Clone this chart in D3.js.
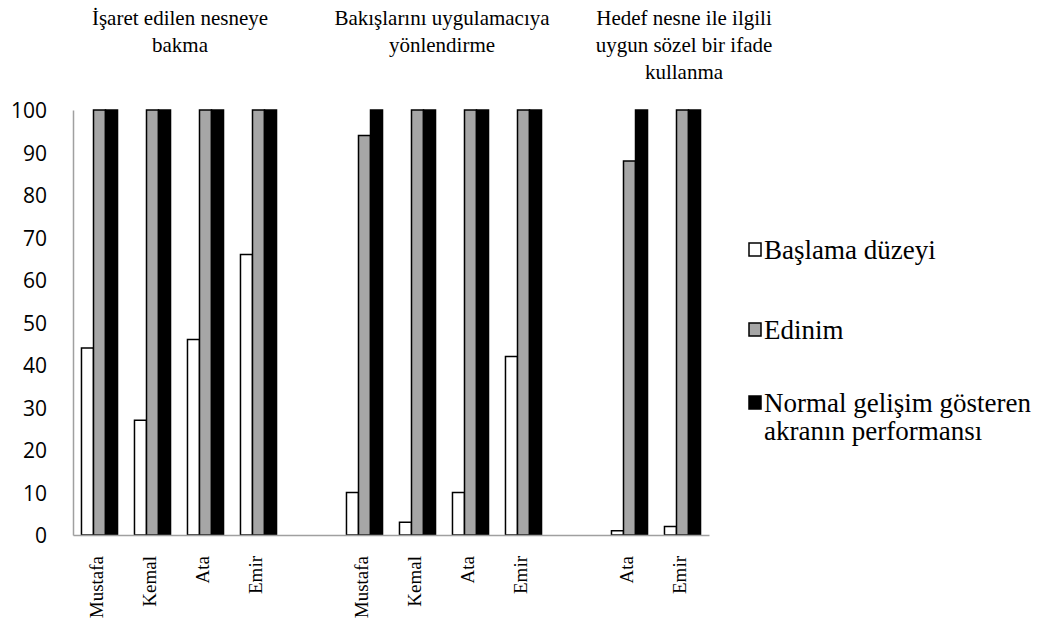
<!DOCTYPE html>
<html>
<head>
<meta charset="utf-8">
<script src="https://cdn.jsdelivr.net/npm/d3@7/dist/d3.min.js"></script>
<style>
  html, body { margin: 0; padding: 0; background: #fff; }
  svg { display: block; }
</style>
</head>
<body>
<svg id="chart" width="1039" height="622"></svg>
<script>
// ---- data ----
const groupTitles = [
  ["İşaret edilen nesneye", "bakma"],
  ["Bakışlarını uygulamacıya", "yönlendirme"],
  ["Hedef nesne ile ilgili", "uygun sözel bir ifade", "kullanma"]
];
const categories = ["Mustafa", "Kemal", "Ata", "Emir", "", "Mustafa", "Kemal", "Ata", "Emir", "", "Ata", "Emir"];
const baslama = [44, 27, 46, 66, null, 10, 3, 10, 42, null, 1, 2];
const edinim  = [100, 100, 100, 100, null, 94, 100, 100, 100, null, 88, 100];
const akran   = [100, 100, 100, 100, null, 100, 100, 100, 100, null, 100, 100];
const seriesNames = ["Başlama düzeyi", "Edinim", "Normal gelişim gösteren akranın performansı"];
const yTicks = [0, 10, 20, 30, 40, 50, 60, 70, 80, 90, 100];

(function () {
// ---- layout ----
const svg = d3.select("#chart");
const pLeft = 73, pRight = 709, pTop = 110, pBottom = 535;
const seriesValues = [baslama, edinim, akran];
const fills = ["#ffffff", "#a6a6a6", "#000000"];

const x = d3.scaleBand().domain(d3.range(categories.length)).range([pLeft, pRight])
  .paddingInner(0.32).paddingOuter(0.16);
const xs = d3.scaleBand().domain(d3.range(3)).range([0, x.bandwidth()]);
const y = d3.scaleLinear().domain([0, 100]).range([pBottom, pTop]);

// bars
seriesValues.forEach((vals, s) => {
  svg.append("g").selectAll("rect")
    .data(vals.map((v, i) => ({ v, i })).filter(d => d.v !== null))
    .join("rect")
    .attr("x", d => x(d.i) + xs(s))
    .attr("y", d => y(d.v))
    .attr("width", xs.bandwidth())
    .attr("height", d => y(0) - y(d.v))
    .attr("fill", fills[s])
    .attr("stroke", "#000")
    .attr("stroke-width", 1.5);
});

// y axis
const yAxis = d3.axisLeft(y).tickValues(yTicks).tickSize(0).tickPadding(26);
const yg = svg.append("g").attr("transform", `translate(${pLeft},0)`).call(yAxis);
yg.select(".domain").attr("stroke", "#a0a0a0").attr("stroke-width", 1.5);
yg.selectAll("text").attr("font-family", "'Open Sans', sans-serif").attr("font-size", 21)
  .attr("fill", "#000").attr("dy", "0.36em");

// x axis
const xAxis = d3.axisBottom(x).tickSize(0).tickFormat(i => categories[i]);
const xg = svg.append("g").attr("transform", `translate(0,${pBottom})`).call(xAxis);
xg.select(".domain").attr("stroke", "#a0a0a0").attr("stroke-width", 1.5);
xg.selectAll("text")
  .attr("font-family", "'Liberation Serif', 'Times New Roman', serif")
  .attr("font-size", 19).attr("fill", "#000")
  .attr("text-anchor", "end")
  .attr("transform", "translate(-3,21) rotate(-90)")
  .attr("x", 0).attr("y", 0).attr("dy", "0.35em");

// group titles
const titleX = [180, 442, 684];
groupTitles.forEach((lines, g) => {
  const t = svg.append("text")
    .attr("font-family", "'Liberation Serif', 'Times New Roman', serif")
    .attr("font-size", 21).attr("text-anchor", "middle").attr("fill", "#000");
  lines.forEach((ln, k) => {
    t.append("tspan").attr("x", titleX[g]).attr("y", 25 + k * 27).text(ln);
  });
});

// legend
const legendY = [250, 330, 403];
const lg = svg.append("g");
seriesNames.forEach((name, s) => {
  lg.append("rect").attr("x", 749).attr("y", legendY[s] - 7).attr("width", 12).attr("height", 13)
    .attr("fill", fills[s]).attr("stroke", "#000").attr("stroke-width", 1.5);
  const t = lg.append("text")
    .attr("font-family", "'Liberation Serif', 'Times New Roman', serif")
    .attr("font-size", 27).attr("fill", "#000");
  if (s === 2) {
    t.append("tspan").attr("x", 764).attr("y", legendY[s] + 9).text("Normal gelişim gösteren");
    t.append("tspan").attr("x", 764).attr("y", legendY[s] + 37).text("akranın performansı");
  } else {
    t.append("tspan").attr("x", 764).attr("y", legendY[s] + 9).text(name);
  }
});
})();
</script>
</body>
</html>
